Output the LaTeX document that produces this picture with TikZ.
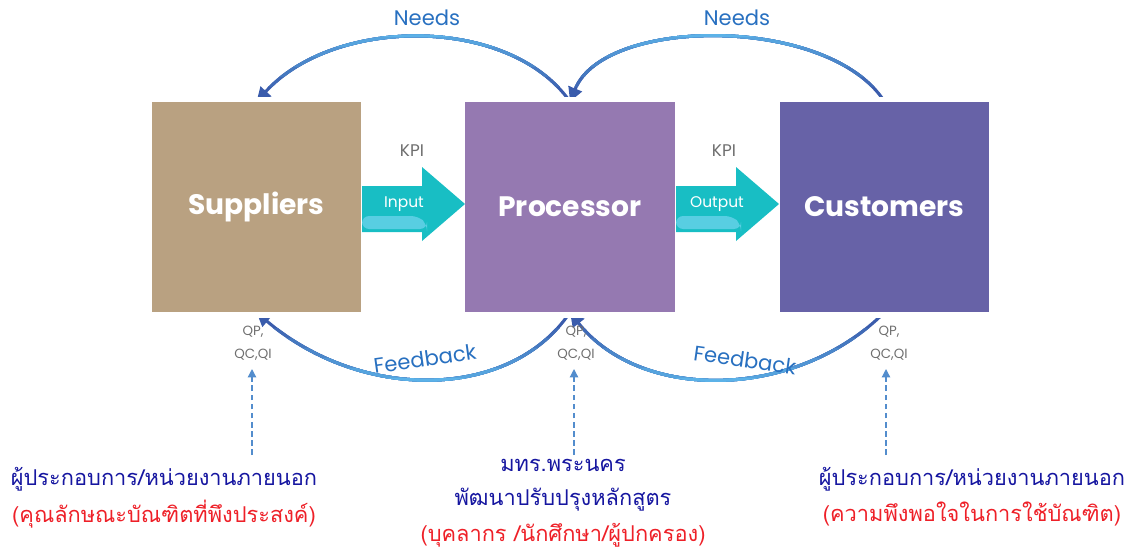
\documentclass[tikz,border=0pt]{standalone}
\usepackage{fontspec}
\setmainfont{Poppins}
\newfontfamily\thaifont[Script=Thai]{Loma}
\usetikzlibrary{arrows.meta, positioning}

\definecolor{supplierTan}{RGB}{185,161,129}
\definecolor{processorViolet}{RGB}{149,121,177}
\definecolor{customerIndigo}{RGB}{103,98,167}
\definecolor{flowTeal}{RGB}{24,190,196}
\definecolor{flowLight}{RGB}{88,206,226}
\definecolor{arcDark}{RGB}{58,92,172}
\definecolor{arcLight}{RGB}{92,178,232}
\definecolor{labelBlue}{RGB}{40,112,192}
\definecolor{thaiBlue}{RGB}{22,22,160}
\definecolor{thaiRed}{RGB}{238,32,40}
\definecolor{kpiGray}{RGB}{110,110,110}

\begin{document}
\begin{tikzpicture}
[x=0.025cm, y=-0.025cm,
StageNode/.style={rectangle, inner sep=0pt, minimum width=5.225cm,
  minimum height=5.25cm, text=white, font=\fontsize{20}{23}\selectfont\bfseries},
FlowText/.style={text=white, font=\fontsize{11}{13}\selectfont},
KpiText/.style={text=kpiGray, font=\fontsize{12}{14}\selectfont},
QualityText/.style={text=kpiGray, font=\fontsize{9.5}{11}\selectfont},
ArcText/.style={text=labelBlue, font=\fontsize{15}{18}\selectfont},
ArcLine/.style={line width=2.2pt, -{Triangle[length=10pt, width=10pt, color=arcDark]}},
DashLink/.style={draw=labelBlue!80, line width=0.9pt, dash pattern=on 4pt off 2.5pt,
  shorten >=0.35cm, -{Triangle[length=6pt, width=6pt]}},
ThaiMain/.style={text=thaiBlue, font=\thaifont\fontsize{15.5}{18}\selectfont},
ThaiNote/.style={text=thaiRed, font=\thaifont\fontsize{15.5}{18}\selectfont}
]
\useasboundingbox (0,0) rectangle (1136,552);

\node[StageNode, fill=supplierTan] (Suppliers) at (256.5,207) {Suppliers};
\node[StageNode, fill=processorViolet] (Processor) at (570,207) {Processor};
\node[StageNode, fill=customerIndigo] (Customers) at (884.5,207) {Customers};

% teal flow arrows
\fill[flowTeal] (362,186) -- (422,186) -- (422,167) -- (465,204) -- (422,241)
  -- (422,232) -- (362,232) -- cycle;
\fill[flowLight, rounded corners=5pt] (362,216) -- (418,216) -- (427,224)
  -- (427,229) -- (362,229) -- cycle;
\fill[flowTeal] (676,186) -- (736,186) -- (736,167) -- (779,204) -- (736,241)
  -- (736,232) -- (676,232) -- cycle;
\fill[flowLight, rounded corners=5pt] (676,216) -- (732,216) -- (741,224)
  -- (741,229) -- (676,229) -- cycle;
\node[FlowText] (Input) at (404,204) {Input};
\node[FlowText] (Output) at (717,204) {Output};
\node[KpiText] (KpiIn) at (412,151) {KPI};
\node[KpiText] (KpiOut) at (724,151) {KPI};

% needs arcs
\foreach \k in {0,...,6} {
  \pgfmathsetmacro\mix{100*\k/6}
  \colorlet{arcTone}{arcLight!\mix!arcDark}
  \begin{scope}
    \clip (0,{96-10*\k}) rectangle (1136,0);
    \draw[ArcLine, arcTone] (Processor.north) .. controls +(-60,-86) and +(78.5,-86) .. (Suppliers.north);
    \draw[ArcLine, arcTone] (Customers.north) .. controls +(-54.5,-86) and +(35,-86) .. (Processor.north);
  \end{scope}
}
\node[ArcText] (NeedsLeft) at (427,18) {Needs};
\node[ArcText] (NeedsRight) at (737,18) {Needs};

% feedback arcs
\foreach \k in {0,...,6} {
  \pgfmathsetmacro\mix{100*\k/6}
  \colorlet{arcTone}{arcLight!\mix!arcDark}
  \begin{scope}
    \clip (0,{318+10*\k}) rectangle (1136,552);
    \draw[ArcLine, arcTone] (Processor.south) .. controls +(-60,89) and +(104.5,89) .. (Suppliers.south);
    \draw[ArcLine, arcTone] (Customers.south) .. controls +(-89.5,89) and +(70,89) .. (Processor.south);
  \end{scope}
}
\node[ArcText, rotate=8] (FeedbackLeft) at (425,359) {Feedback};
\node[ArcText, rotate=-8] (FeedbackRight) at (745,360) {Feedback};

% quality labels
\node[QualityText] (QpSup) at (253,332) {QP,};
\node[QualityText] (QcSup) at (253,355) {QC,QI};
\node[QualityText] (QpPro) at (576,332) {QP,};
\node[QualityText] (QcPro) at (576,355) {QC,QI};
\node[QualityText] (QpCus) at (889,332) {QP,};
\node[QualityText] (QcCus) at (889,355) {QC,QI};

% stakeholder texts
\node[ThaiMain] (SupOwner) at (164,479) {ผู้ประกอบการ/หน่วยงานภายนอก};
\node[ThaiNote] (SupNote) at (164,514) {(คุณลักษณะบัณฑิตที่พึงประสงค์)};
\node[ThaiMain] (ProOwner) at (563,465) {มทร.พระนคร};
\node[ThaiMain] (ProTask) at (563,500) {พัฒนาปรับปรุงหลักสูตร};
\node[ThaiNote] (ProNote) at (563,535) {(บุคลากร /นักศึกษา/ผู้ปกครอง)};
\node[ThaiMain] (CusOwner) at (972,479) {ผู้ประกอบการ/หน่วยงานภายนอก};
\node[ThaiNote] (CusNote) at (972,514) {(ความพึงพอใจในการใช้บัณฑิต)};

\coordinate (SupBase) at (252,455);
\coordinate (ProBase) at (574,455);
\coordinate (CusBase) at (886,455);
\draw[DashLink] (SupBase) -- (SupBase |- QcSup);
\draw[DashLink] (ProBase) -- (ProBase |- QcPro);
\draw[DashLink] (CusBase) -- (CusBase |- QcCus);
\end{tikzpicture}
\end{document}
